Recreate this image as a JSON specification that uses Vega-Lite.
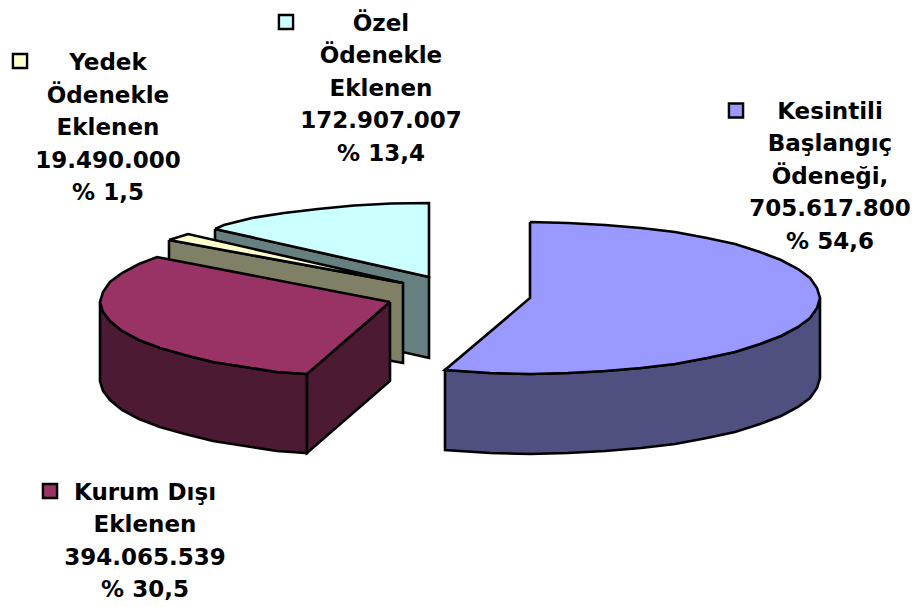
{"$schema":"https://vega.github.io/schema/vega-lite/v6.json","width":917,"height":607,"padding":0,"autosize":{"type":"fit","contains":"padding"},"background":"white","config":{"view":{"stroke":null}},
"datasets":{
"slices":[
{"slice":"Kesintili Başlangıç Ödeneği","value":705617800,"share":54.6,"label":"Kesintili\nBaşlangıç\nÖdeneği,\n705.617.800\n% 54,6","lx":372,"ly":202.5,"kx":278,"ky":192.5},
{"slice":"Kurum Dışı Eklenen","value":394065539,"share":30.5,"label":"Kurum Dışı\nEklenen\n394.065.539\n% 30,5","lx":-313,"ly":-178.5,"kx":-408,"ky":-188},
{"slice":"Yedek Ödenekle Eklenen","value":19490000,"share":1.5,"label":"Yedek\nÖdenekle\nEklenen\n19.490.000\n% 1,5","lx":-350,"ly":251,"kx":-438,"ky":242},
{"slice":"Özel Ödenekle Eklenen","value":172907007,"share":13.4,"label":"Özel\nÖdenekle\nEklenen\n172.907.007\n% 13,4","lx":-77,"ly":290.5,"kx":-172,"ky":281}
],
"outline":[
{"p":"a_ozel_cut","i":1,"x":-243,"y":74},{"p":"a_ozel_cut","i":2,"x":-29,"y":26},{"p":"a_ozel_cut","i":3,"x":-29,"y":-55},{"p":"a_ozel_cut","i":4,"x":-243,"y":-7},{"p":"a_ozel_cut","i":5,"x":-243,"y":74},
{"p":"b_ozel_top","i":1,"x":-243,"y":74},{"p":"b_ozel_top","i":2,"x":-234,"y":78},{"p":"b_ozel_top","i":3,"x":-206,"y":85},{"p":"b_ozel_top","i":4,"x":-174,"y":90},{"p":"b_ozel_top","i":5,"x":-140,"y":94},{"p":"b_ozel_top","i":6,"x":-104,"y":97.5},{"p":"b_ozel_top","i":7,"x":-67,"y":99.5},{"p":"b_ozel_top","i":8,"x":-29,"y":100},{"p":"b_ozel_top","i":9,"x":-29,"y":26},{"p":"b_ozel_top","i":10,"x":-243,"y":74},
{"p":"c_yedek_cut","i":1,"x":-289,"y":63},{"p":"c_yedek_cut","i":2,"x":-55,"y":20},{"p":"c_yedek_cut","i":3,"x":-55,"y":-60},{"p":"c_yedek_cut","i":4,"x":-289,"y":-17},{"p":"c_yedek_cut","i":5,"x":-289,"y":63},
{"p":"d_yedek_top","i":1,"x":-289,"y":63},{"p":"d_yedek_top","i":2,"x":-270,"y":69},{"p":"d_yedek_top","i":3,"x":-55,"y":20},{"p":"d_yedek_top","i":4,"x":-289,"y":63},
{"p":"e_kurum_side","i":1,"x":-358,"y":1},{"p":"e_kurum_side","i":2,"x":-355,"y":-9},{"p":"e_kurum_side","i":3,"x":-348,"y":-18},{"p":"e_kurum_side","i":4,"x":-336,"y":-28},{"p":"e_kurum_side","i":5,"x":-319,"y":-37},{"p":"e_kurum_side","i":6,"x":-298,"y":-45},{"p":"e_kurum_side","i":7,"x":-273,"y":-52},{"p":"e_kurum_side","i":8,"x":-245,"y":-59},{"p":"e_kurum_side","i":9,"x":-213,"y":-64},{"p":"e_kurum_side","i":10,"x":-181,"y":-69},{"p":"e_kurum_side","i":11,"x":-151,"y":-71},{"p":"e_kurum_side","i":12,"x":-151,"y":-150},{"p":"e_kurum_side","i":13,"x":-181,"y":-148},{"p":"e_kurum_side","i":14,"x":-213,"y":-143},{"p":"e_kurum_side","i":15,"x":-245,"y":-138},{"p":"e_kurum_side","i":16,"x":-273,"y":-131},{"p":"e_kurum_side","i":17,"x":-298,"y":-124},{"p":"e_kurum_side","i":18,"x":-319,"y":-116},{"p":"e_kurum_side","i":19,"x":-336,"y":-107},{"p":"e_kurum_side","i":20,"x":-348,"y":-97},{"p":"e_kurum_side","i":21,"x":-355,"y":-88},{"p":"e_kurum_side","i":22,"x":-358,"y":-78},{"p":"e_kurum_side","i":23,"x":-358,"y":1},
{"p":"f_kurum_cut","i":1,"x":-68,"y":1},{"p":"f_kurum_cut","i":2,"x":-151,"y":-71},{"p":"f_kurum_cut","i":3,"x":-151,"y":-150},{"p":"f_kurum_cut","i":4,"x":-68,"y":-78},{"p":"f_kurum_cut","i":5,"x":-68,"y":1},
{"p":"g_kurum_top","i":1,"x":-68,"y":1},{"p":"g_kurum_top","i":2,"x":-151,"y":-71},{"p":"g_kurum_top","i":3,"x":-181,"y":-69},{"p":"g_kurum_top","i":4,"x":-213,"y":-64},{"p":"g_kurum_top","i":5,"x":-245,"y":-59},{"p":"g_kurum_top","i":6,"x":-273,"y":-52},{"p":"g_kurum_top","i":7,"x":-298,"y":-45},{"p":"g_kurum_top","i":8,"x":-319,"y":-37},{"p":"g_kurum_top","i":9,"x":-336,"y":-28},{"p":"g_kurum_top","i":10,"x":-348,"y":-18},{"p":"g_kurum_top","i":11,"x":-355,"y":-9},{"p":"g_kurum_top","i":12,"x":-358,"y":1},{"p":"g_kurum_top","i":13,"x":-355,"y":11},{"p":"g_kurum_top","i":14,"x":-348,"y":21},{"p":"g_kurum_top","i":15,"x":-336,"y":30},{"p":"g_kurum_top","i":16,"x":-319,"y":39},{"p":"g_kurum_top","i":17,"x":-301,"y":46},{"p":"g_kurum_top","i":18,"x":-68,"y":1},
{"p":"h_kes_side","i":1,"x":362,"y":5},{"p":"h_kes_side","i":2,"x":359,"y":-5},{"p":"h_kes_side","i":3,"x":352,"y":-15},{"p":"h_kes_side","i":4,"x":340,"y":-24},{"p":"h_kes_side","i":5,"x":323,"y":-33},{"p":"h_kes_side","i":6,"x":302,"y":-41},{"p":"h_kes_side","i":7,"x":277,"y":-49},{"p":"h_kes_side","i":8,"x":249,"y":-55},{"p":"h_kes_side","i":9,"x":217,"y":-61},{"p":"h_kes_side","i":10,"x":183,"y":-65},{"p":"h_kes_side","i":11,"x":147,"y":-68},{"p":"h_kes_side","i":12,"x":110,"y":-70},{"p":"h_kes_side","i":13,"x":72,"y":-71},{"p":"h_kes_side","i":14,"x":32,"y":-70},{"p":"h_kes_side","i":15,"x":-13,"y":-67},{"p":"h_kes_side","i":16,"x":-13,"y":-147},{"p":"h_kes_side","i":17,"x":32,"y":-150},{"p":"h_kes_side","i":18,"x":72,"y":-151},{"p":"h_kes_side","i":19,"x":110,"y":-150},{"p":"h_kes_side","i":20,"x":147,"y":-148},{"p":"h_kes_side","i":21,"x":183,"y":-145},{"p":"h_kes_side","i":22,"x":217,"y":-141},{"p":"h_kes_side","i":23,"x":249,"y":-135},{"p":"h_kes_side","i":24,"x":277,"y":-129},{"p":"h_kes_side","i":25,"x":302,"y":-121},{"p":"h_kes_side","i":26,"x":323,"y":-113},{"p":"h_kes_side","i":27,"x":340,"y":-104},{"p":"h_kes_side","i":28,"x":352,"y":-95},{"p":"h_kes_side","i":29,"x":359,"y":-85},{"p":"h_kes_side","i":30,"x":362,"y":-75},{"p":"h_kes_side","i":31,"x":362,"y":5},
{"p":"i_kes_top","i":1,"x":72,"y":81},{"p":"i_kes_top","i":2,"x":110,"y":80},{"p":"i_kes_top","i":3,"x":147,"y":78},{"p":"i_kes_top","i":4,"x":183,"y":75},{"p":"i_kes_top","i":5,"x":217,"y":71},{"p":"i_kes_top","i":6,"x":249,"y":65},{"p":"i_kes_top","i":7,"x":277,"y":59},{"p":"i_kes_top","i":8,"x":302,"y":51},{"p":"i_kes_top","i":9,"x":323,"y":43},{"p":"i_kes_top","i":10,"x":340,"y":34},{"p":"i_kes_top","i":11,"x":352,"y":25},{"p":"i_kes_top","i":12,"x":359,"y":15},{"p":"i_kes_top","i":13,"x":362,"y":5},{"p":"i_kes_top","i":14,"x":359,"y":-5},{"p":"i_kes_top","i":15,"x":352,"y":-15},{"p":"i_kes_top","i":16,"x":340,"y":-24},{"p":"i_kes_top","i":17,"x":323,"y":-33},{"p":"i_kes_top","i":18,"x":302,"y":-41},{"p":"i_kes_top","i":19,"x":277,"y":-49},{"p":"i_kes_top","i":20,"x":249,"y":-55},{"p":"i_kes_top","i":21,"x":217,"y":-61},{"p":"i_kes_top","i":22,"x":183,"y":-65},{"p":"i_kes_top","i":23,"x":147,"y":-68},{"p":"i_kes_top","i":24,"x":110,"y":-70},{"p":"i_kes_top","i":25,"x":72,"y":-71},{"p":"i_kes_top","i":26,"x":32,"y":-70},{"p":"i_kes_top","i":27,"x":-13,"y":-67},{"p":"i_kes_top","i":28,"x":72,"y":5},{"p":"i_kes_top","i":29,"x":72,"y":81}
]},
"layer":[
{"data":{"name":"outline"},"mark":{"type":"line","filled":true,"stroke":"black","strokeWidth":2.6,"strokeJoin":"miter","interpolate":"linear"},
"encoding":{"x":{"field":"x","type":"quantitative","scale":{"domain":[-458,459],"nice":false,"zero":false},"axis":null},"y":{"field":"y","type":"quantitative","scale":{"domain":[-304,303],"nice":false,"zero":false},"axis":null},"order":{"field":"i"},"detail":{"field":"p"},
"fill":{"field":"p","type":"nominal","legend":null,"scale":{"domain":["a_ozel_cut","b_ozel_top","c_yedek_cut","d_yedek_top","e_kurum_side","f_kurum_cut","g_kurum_top","h_kes_side","i_kes_top"],"range":["#668080","#CCFFFF","#808066","#FFFFCC","#4D1A33","#4D1A33","#993366","#4F4F80","#9999FF"]}}}},
{"data":{"name":"slices"},"mark":{"type":"text","font":"DejaVu Sans","fontWeight":"bold","fontSize":23,"lineBreak":"\n","lineHeight":32.6,"align":"center","baseline":"top","color":"black"},
"encoding":{"x":{"field":"lx","type":"quantitative","scale":{"domain":[-458,459],"nice":false,"zero":false},"axis":null},"y":{"field":"ly","type":"quantitative","scale":{"domain":[-304,303],"nice":false,"zero":false},"axis":null},"text":{"field":"label"}}},
{"data":{"name":"slices"},"mark":{"type":"square","size":200,"stroke":"black","strokeWidth":2.4,"opacity":1,"filled":true},
"encoding":{"x":{"field":"kx","type":"quantitative","scale":{"domain":[-458,459],"nice":false,"zero":false},"axis":null},"y":{"field":"ky","type":"quantitative","scale":{"domain":[-304,303],"nice":false,"zero":false},"axis":null},
"fill":{"field":"slice","type":"nominal","legend":null,"scale":{"domain":["Kesintili Başlangıç Ödeneği","Kurum Dışı Eklenen","Yedek Ödenekle Eklenen","Özel Ödenekle Eklenen"],"range":["#9999FF","#993366","#FFFFCC","#CCFFFF"]}}}}
],
"resolve":{"scale":{"fill":"independent"}}}
